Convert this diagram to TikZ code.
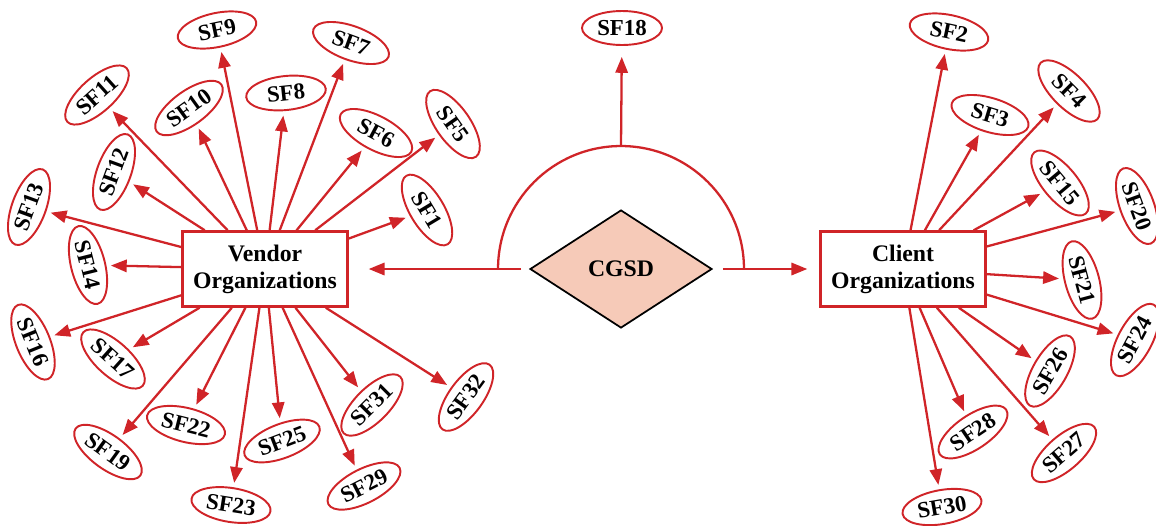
\documentclass[tikz,border=0pt]{standalone}
\usepackage{fontspec}
\setmainfont{Liberation Serif}
\usepackage{xcolor}
\usepackage{tikz}
\usetikzlibrary{shapes.geometric}
\usetikzlibrary{arrows.meta}
\definecolor{sfred}{RGB}{208,36,40}
\definecolor{cgsdfill}{RGB}{246,202,184}

\begin{document}
\begin{tikzpicture}[x=0.02cm, y=-0.02cm,
	every node/.style={font=\bfseries\fontsize{13}{15.5}\selectfont},
	sf/.style={ellipse, draw=sfred, line width=1.1pt, minimum width=1.6cm, minimum height=0.68cm, inner sep=0pt},
	org/.style={rectangle, draw=sfred, line width=1.4pt, minimum width=3.3cm, minimum height=1.5cm, align=center, font=\bfseries\fontsize{13.5}{15.5}\selectfont},
	link/.style={draw=sfred, line width=1.3pt, -{Triangle[length=9pt,width=7pt]}, shorten >=2.5pt}]
			\useasboundingbox (0,0) rectangle (1156,525);
			% Nodes
			\node[org] (vendor) at (265,269) {Vendor\\Organizations};
			\node[org] (client) at (903,269) {Client\\Organizations};
			\node[diamond, draw=black, line width=1pt, fill=cgsdfill, aspect=1.54, minimum width=3.64cm, minimum height=2.36cm, inner sep=0pt, font=\bfseries\fontsize{13.5}{15.5}\selectfont] (cgsd) at (621,269) {CGSD};
			\node[sf] (18) at (622,28) {SF18};
			% Vendor side
			\node[sf, rotate=-59] (1) at (427,210) {SF1};
			\node[sf, rotate=-55] (5) at (453,124) {SF5};
			\node[sf, rotate=-28] (6) at (376,133) {SF6};
			\node[sf, rotate=-20] (7) at (351,43) {SF7};
			\node[sf, rotate=6] (8) at (286,93) {SF8};
			\node[sf, rotate=12] (9) at (217,30) {SF9};
			\node[sf, rotate=36] (10) at (189,108) {SF10};
			\node[sf, rotate=42] (11) at (97,95) {SF11};
			\node[sf, rotate=70] (12) at (114,172) {SF12};
			\node[sf, rotate=70] (13) at (29,207) {SF13};
			\node[sf, rotate=-76] (14) at (88,265) {SF14};
			\node[sf, rotate=-68] (16) at (33,342) {SF16};
			\node[sf, rotate=-42] (17) at (113,359) {SF17};
			\node[sf, rotate=-36] (19) at (108,452) {SF19};
			\node[sf, rotate=-14] (22) at (186,425) {SF22};
			\node[sf, rotate=-9] (23) at (231,505) {SF23};
			\node[sf, rotate=21] (25) at (282,441) {SF25};
			\node[sf, rotate=27] (29) at (364,486) {SF29};
			\node[sf, rotate=45] (31) at (372,405) {SF31};
			\node[sf, rotate=54] (32) at (466,397) {SF32};
			% Client side
			\node[sf, rotate=-12] (2) at (949,32) {SF2};
			\node[sf, rotate=-17] (3) at (990,115) {SF3};
			\node[sf, rotate=-45] (4) at (1069,91) {SF4};
			\node[sf, rotate=-50] (15) at (1060,183) {SF15};
			\node[sf, rotate=-70] (20) at (1137,206) {SF20};
			\node[sf, rotate=-75] (21) at (1082,280) {SF21};
			\node[sf, rotate=62] (24) at (1135,340) {SF24};
			\node[sf, rotate=60] (26) at (1050,371) {SF26};
			\node[sf, rotate=41] (27) at (1064,453) {SF27};
			\node[sf, rotate=34] (28) at (973,432) {SF28};
			\node[sf, rotate=10] (30) at (942,507) {SF30};
			% CGSD links
			\draw[link, shorten <=0.16cm, shorten >=0.4cm] (cgsd.west) -- (vendor.east);
			\draw[link, shorten <=0.2cm, shorten >=0.24cm] (cgsd.east) -- (client.west);
			\draw[draw=sfred, line width=1.3pt] ([xshift=-2.46cm]cgsd.center) arc[start angle=180, end angle=0, radius=2.46cm];
			\coordinate (top) at ([yshift=2.46cm]cgsd.center);
			\draw[link, shorten >=0.22cm] (top) -- (18);
			% Edges from vendor
			\draw[link] (vendor) -- (1);
			\draw[link] (vendor) -- (5);
			\draw[link] (vendor) -- (6);
			\draw[link] (vendor) -- (7);
			\draw[link] (vendor) -- (8);
			\draw[link] (vendor) -- (9);
			\draw[link] (vendor) -- (10);
			\draw[link] (vendor) -- (11);
			\draw[link] (vendor) -- (12);
			\draw[link] (vendor) -- (13);
			\draw[link] (vendor) -- (14);
			\draw[link] (vendor) -- (16);
			\draw[link] (vendor) -- (17);
			\draw[link] (vendor) -- (19);
			\draw[link] (vendor) -- (22);
			\draw[link] (vendor) -- (23);
			\draw[link] (vendor) -- (25);
			\draw[link] (vendor) -- (29);
			\draw[link] (vendor) -- (31);
			\draw[link] (vendor) -- (32);
			% Edges from client
			\draw[link] (client) -- (2);
			\draw[link] (client) -- (3);
			\draw[link] (client) -- (4);
			\draw[link] (client) -- (15);
			\draw[link] (client) -- (20);
			\draw[link] (client) -- (21);
			\draw[link] (client) -- (24);
			\draw[link] (client) -- (26);
			\draw[link] (client) -- (27);
			\draw[link] (client) -- (28);
			\draw[link] (client) -- (30);
		\end{tikzpicture}
\end{document}
